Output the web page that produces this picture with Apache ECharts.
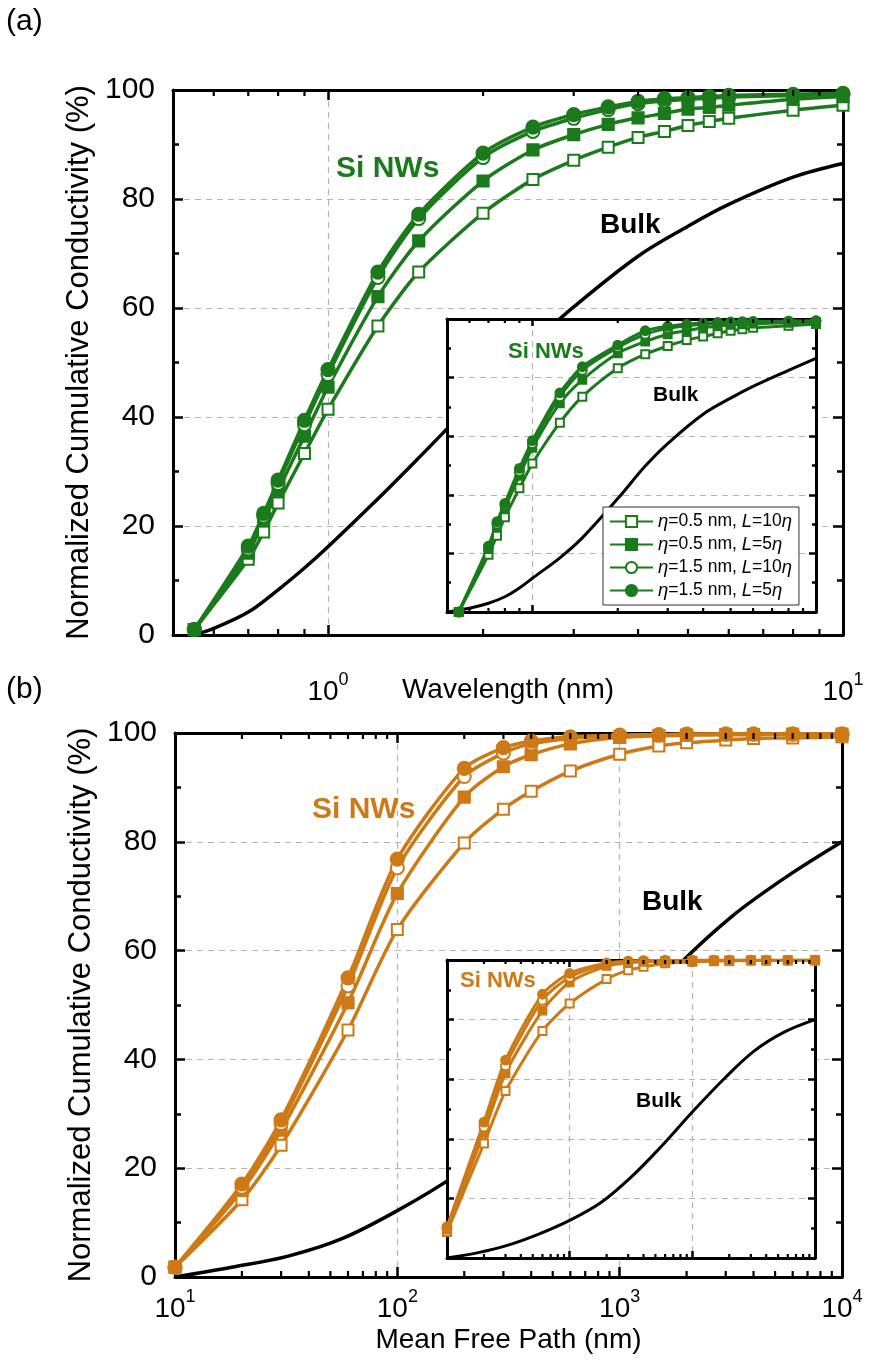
<!DOCTYPE html>
<html>
<head>
<meta charset="utf-8">
<script src="https://cdn.jsdelivr.net/npm/echarts@6/dist/echarts.min.js"></script>
<style>
  html, body { margin: 0; background: #fff; }
  #chart { width: 871px; height: 1366px; }
</style>
</head>
<body>
<div id="chart"></div>
<script>
// ---- panel (a): wavelength ----
var wlX = [0.55, 0.7, 0.75, 0.8, 0.9, 1.0, 1.25, 1.5, 2, 2.5, 3, 3.5, 4, 4.5, 5, 5.5, 6, 8, 10];
var wlOpenSq = [1, 13.9, 18.9, 24.2, 33.3, 41.4, 56.7, 66.6, 77.4, 83.6, 87.1, 89.5, 91.3, 92.4, 93.5, 94.2, 94.8, 96.3, 97.2];
var wlFullSq = [1, 15, 21, 26.5, 36.5, 45.5, 62.1, 72.3, 83.3, 89.0, 91.8, 93.7, 94.9, 95.7, 96.5, 96.8, 97.2, 98.3, 98.8];
var wlOpenCi = [1, 15.8, 21.8, 27.8, 38.6, 47.8, 65.6, 76.4, 87.6, 92.4, 94.8, 96.4, 97.5, 98, 98.3, 98.5, 98.7, 99, 99.2];
var wlFullCi = [1, 16.3, 22.3, 28.4, 39.4, 48.7, 66.6, 77.2, 88.4, 93.2, 95.5, 96.9, 97.9, 98.4, 98.6, 98.8, 99, 99.2, 99.4];
var wlBulkX = [0.55, 0.6, 0.7, 0.8, 0.9, 1.0, 1.25, 1.5, 1.75, 2, 2.5, 3, 4, 5, 6, 8, 10];
var wlBulk = [0, 1.2, 4.2, 8.3, 12.3, 16.2, 25, 32.5, 39, 44.7, 53.5, 60.2, 69.5, 75, 79, 84, 86.5];

// inset (a)
var inWlOpenSq = [0, 19.5, 26, 32.3, 42.2, 50.7, 64.6, 73.5, 83.2, 88, 90.8, 92.8, 94, 95.1, 96, 96.5, 97, 97.7, 98.3];
var inWlFullSq = [0, 21.5, 29, 35.5, 46.5, 56, 71.2, 79.2, 88.3, 92.3, 94.8, 96, 97, 97.5, 98, 98.2, 98.4, 98.7, 98.9];
var inWlOpenCi = [0, 22, 30, 36.5, 48, 57.5, 73.5, 82.5, 90.3, 94.8, 96.8, 97.7, 98.2, 98.5, 98.7, 98.9, 99, 99.2, 99.3];
var inWlFullCi = [0, 22.5, 30.8, 37.1, 49, 58.5, 74.8, 83.7, 91.1, 96, 97.5, 98.2, 98.6, 98.8, 99, 99.1, 99.2, 99.3, 99.4];
var inWlBulkX = [0.5, 0.6, 0.7, 0.8, 0.9, 1.0, 1.25, 1.5, 2, 2.5, 3, 4, 5, 6, 8, 10];
var inWlBulk = [0, 1.3, 3, 5.2, 8.2, 11.5, 18.5, 25.3, 38.7, 49.8, 57.5, 67.5, 73, 77, 82.5, 86.6];

// ---- panel (b): mean free path ----
var mfpX = [10, 20, 30, 60, 100, 200, 300, 400, 600, 1000, 1500, 2000, 3000, 4000, 6000, 10000];
var mfpOpenSq = [1.8, 14.2, 24.2, 45.4, 63.9, 79.8, 86.0, 89.3, 93.0, 96.1, 97.6, 98.2, 98.7, 99.0, 99.1, 99.3];
var mfpFullSq = [1.8, 15.9, 27, 50.4, 70.5, 88.2, 93.8, 96, 98, 99.2, 99.5, 99.6, 99.7, 99.7, 99.8, 99.8];
var mfpOpenCi = [1.8, 16.5, 28.2, 53.5, 75.2, 92, 96.3, 98, 99, 99.5, 99.6, 99.7, 99.8, 99.8, 99.8, 99.8];
var mfpFullCi = [1.8, 17.1, 28.9, 55.0, 76.8, 93.5, 97.3, 98.5, 99.3, 99.6, 99.7, 99.8, 99.8, 99.8, 99.8, 99.8];
var mfpBulkX = [10, 18, 32, 56, 100, 180, 320, 560, 1000, 1800, 3200, 5600, 10000];
var mfpBulk = [0, 1.8, 3.8, 7, 12.2, 18.5, 26.2, 35, 46, 57, 66.3, 73.5, 80];

// inset (b)
var inMfpOpenSq = [8.7, 38.4, 56, 76.2, 85.4, 93.6, 96.6, 97.7, 98.9, 99.4, 99.6, 99.7, 99.8, 99.8, 99.9, 99.9];
var inMfpFullSq = [9.5, 42, 62, 83, 92.5, 98, 99, 99.4, 99.7, 99.8, 99.9, 99.9, 99.9, 99.9, 99.9, 99.9];
var inMfpOpenCi = [10, 44, 64.5, 86.5, 94.2, 98.6, 99.4, 99.7, 99.8, 99.9, 99.9, 99.9, 99.9, 99.9, 99.9, 99.9];
var inMfpFullCi = [10.5, 45.6, 66.4, 88.5, 95.5, 99, 99.6, 99.8, 99.9, 99.9, 99.9, 99.9, 99.9, 99.9, 99.9, 99.9];
var inMfpBulkX = [10, 18, 32, 56, 100, 180, 320, 560, 1000, 1800, 3200, 5600, 10000];
var inMfpBulk = [0, 1.8, 4.4, 8, 12.6, 18.6, 27.3, 37.5, 49, 60, 69.5, 75.8, 80];

// minor ticks on the log axes
var wlMinor = [0.6, 0.7, 0.8, 0.9, 2, 3, 4, 5, 6, 7, 8, 9];
var mfpMinor = [20, 30, 40, 50, 60, 70, 80, 90, 200, 300, 400, 500, 600, 700, 800, 900,
                2000, 3000, 4000, 5000, 6000, 7000, 8000, 9000];

var names = ['η=0.5 nm, L=10η', 'η=0.5 nm, L=5η', 'η=1.5 nm, L=10η', 'η=1.5 nm, L=5η'];
var symbols = ['emptyRect', 'rect', 'emptyCircle', 'circle'];
var green = '#1b7a1b', orange = '#cd7a16';
var fam = '"Liberation Sans", Arial, sans-serif';
var gridLine = { color: '#b4b4b4', type: [6, 5], width: 1.2 };

function pair(xs, ys) {
    return xs.map(function (x, i) { return [x, ys[i]]; });
}

function logLabel(v) {
    var l = Math.log(v) / Math.LN10, e = Math.round(l);
    if (Math.abs(l - e) > 1e-6) return '';
    return '{b|10}{s|' + e + '}';
}

function xAx(grid, min, max, o) {
    return {
        type: 'log', logBase: 10, gridIndex: grid, min: min, max: max,
        position: o.top ? 'top' : 'bottom', z: o.z || 0,
        axisLine: { show: true, onZero: false, lineStyle: { color: '#000', width: 3 } },
        axisTick: { show: true, inside: true, length: o.inset ? 7 : 10, lineStyle: { color: '#000', width: 2.5 } },
        axisLabel: {
            show: !!o.labels, formatter: logLabel, margin: o.margin || 12,
            rich: {
                b: { fontSize: 28, fontFamily: fam, color: '#000', verticalAlign: 'bottom' },
                s: { fontSize: 18, fontFamily: fam, color: '#000', verticalAlign: 'top', padding: [0, 0, 17, 0] }
            }
        },
        splitLine: { show: !o.top, lineStyle: gridLine },
        name: o.name || '', nameLocation: 'middle', nameGap: o.nameGap || 40, nameMoveOverlap: false,
        nameTextStyle: { fontSize: 28, fontFamily: fam, color: '#000' }
    };
}

function yAx(grid, o) {
    return {
        type: 'value', gridIndex: grid, min: 0, max: 100, interval: 20,
        position: o.right ? 'right' : 'left', z: o.z || 0,
        axisLine: { show: true, onZero: false, lineStyle: { color: '#000', width: 3 } },
        axisTick: { show: true, inside: true, length: o.inset ? 7 : 10, lineStyle: { color: '#000', width: 2.5 } },
        minorTick: { show: true, splitNumber: 2, length: o.inset ? 4 : 6, lineStyle: { color: '#000', width: 2.5 } },
        axisLabel: { show: !!o.labels, fontSize: 30, fontFamily: fam, color: '#000', margin: 18 },
        splitLine: { show: !o.right, lineStyle: gridLine },
        name: o.name || '', nameLocation: 'middle', nameGap: 78, nameRotate: 90, nameMoveOverlap: false,
        nameTextStyle: { fontSize: 31, fontFamily: fam, color: '#000' }
    };
}

function nwSeries(xs, ysList, color, xi, inset) {
    return ysList.map(function (ys, k) {
        var circ = k >= 2;
        return {
            name: names[k], type: 'line', xAxisIndex: xi, yAxisIndex: xi,
            data: pair(xs, ys), smooth: 0.25, z: inset ? 7 : 2,
            symbol: symbols[k],
            symbolSize: inset ? (circ ? 9 : 8) : (circ ? 13 : 11),
            lineStyle: { color: color, width: inset ? 3 : 3.5 },
            itemStyle: { color: color, borderColor: color, borderWidth: inset ? 1.8 : 2.2 },
            emphasis: { disabled: true }, animation: false
        };
    });
}

function bulkSeries(xs, ys, xi, inset) {
    return {
        name: 'Bulk', type: 'line', xAxisIndex: xi, yAxisIndex: xi,
        data: pair(xs, ys), smooth: 0.35, showSymbol: false, z: inset ? 7 : 2,
        lineStyle: { color: '#000', width: inset ? 3 : 3.5 },
        emphasis: { disabled: true }, animation: false
    };
}

function minorTicks(xi, vals, len, z) {
    return {
        type: 'custom', xAxisIndex: xi, yAxisIndex: xi, z: z, silent: true, clip: false,
        data: vals.map(function (v) { return [v, 0]; }),
        renderItem: function (params, api) {
            var cs = params.coordSys;
            var x = api.coord([api.value(0), 0])[0];
            var st = { stroke: '#000', lineWidth: 2.2 };
            return {
                type: 'group', children: [
                    { type: 'line', shape: { x1: x, y1: cs.y + cs.height, x2: x, y2: cs.y + cs.height - len }, style: st },
                    { type: 'line', shape: { x1: x, y1: cs.y, x2: x, y2: cs.y + len }, style: st }
                ]
            };
        }
    };
}

function label(text, x, y, size, color) {
    return {
        type: 'text', x: x, y: y, z: 40,
        style: { text: text, fill: color, fontSize: size, fontWeight: 'bold', fontFamily: fam, align: 'left', verticalAlign: 'middle' }
    };
}

var yTitle = 'Normalized Cumulative Conductivity (%)';

var option = {
    backgroundColor: '#fff',
    animation: false,
    grid: [
        { left: 173, top: 90, width: 670, height: 545 },
        { left: 447, top: 319, width: 369, height: 293, show: true, backgroundColor: '#fff', borderWidth: 0, z: 5 },
        { left: 175, top: 733, width: 667, height: 544 },
        { left: 447, top: 960, width: 368, height: 298, show: true, backgroundColor: '#fff', borderWidth: 0, z: 5 }
    ],
    xAxis: [
        xAx(0, 0.5, 10, { labels: true, margin: 36, name: 'Wavelength (nm)', nameGap: 41 }),
        xAx(1, 0.5, 10, { inset: true, z: 6 }),
        xAx(2, 10, 10000, { labels: true, margin: 11, name: 'Mean Free Path (nm)', nameGap: 49 }),
        xAx(3, 10, 10000, { inset: true, z: 6 }),
        xAx(0, 0.5, 10, { top: true }),
        xAx(1, 0.5, 10, { top: true, inset: true, z: 6 }),
        xAx(2, 10, 10000, { top: true }),
        xAx(3, 10, 10000, { top: true, inset: true, z: 6 })
    ],
    yAxis: [
        yAx(0, { labels: true, name: yTitle }),
        yAx(1, { inset: true, z: 6 }),
        yAx(2, { labels: true, name: yTitle }),
        yAx(3, { inset: true, z: 6 }),
        yAx(0, { right: true }),
        yAx(1, { right: true, inset: true, z: 6 }),
        yAx(2, { right: true }),
        yAx(3, { right: true, inset: true, z: 6 })
    ],
    legend: {
        left: 603, top: 507, orient: 'vertical', z: 20,
        itemGap: 4, itemWidth: 43, itemHeight: 14, padding: [5, 7, 5, 6],
        borderColor: '#333', borderWidth: 1, backgroundColor: '#fff', selectedMode: false,
        data: names,
        formatter: function (n) { return n.replace('L=', '{i|L}=').replace(/η/g, '{i|η}'); },
        textStyle: {
            fontSize: 17.5, fontFamily: fam, color: '#000',
            rich: { i: { fontSize: 18.5, fontStyle: 'italic', fontFamily: fam, color: '#000' } }
        }
    },
    graphic: [
        { type: 'text', x: 6, y: 22, z: 40, style: { text: '(a)', fontSize: 30, fontFamily: fam, fill: '#000', verticalAlign: 'middle' } },
        { type: 'text', x: 6, y: 690, z: 40, style: { text: '(b)', fontSize: 30, fontFamily: fam, fill: '#000', verticalAlign: 'middle' } },
        label('Si NWs', 336, 169, 30, green),
        label('Bulk', 600, 225, 28, '#000'),
        label('Si NWs', 508, 352, 22, green),
        label('Bulk', 653, 395, 21, '#000'),
        label('Si NWs', 312, 810, 30, orange),
        label('Bulk', 642, 902, 28, '#000'),
        label('Si NWs', 460, 981, 22, orange),
        label('Bulk', 636, 1101, 21, '#000')
    ],
    series: [].concat(
        [bulkSeries(wlBulkX, wlBulk, 0, false)],
        nwSeries(wlX, [wlOpenSq, wlFullSq, wlOpenCi, wlFullCi], green, 0, false),
        [bulkSeries(inWlBulkX, inWlBulk, 1, true)],
        nwSeries(wlX, [inWlOpenSq, inWlFullSq, inWlOpenCi, inWlFullCi], green, 1, true),
        [bulkSeries(mfpBulkX, mfpBulk, 2, false)],
        nwSeries(mfpX, [mfpOpenSq, mfpFullSq, mfpOpenCi, mfpFullCi], orange, 2, false),
        [bulkSeries(inMfpBulkX, inMfpBulk, 3, true)],
        nwSeries(mfpX, [inMfpOpenSq, inMfpFullSq, inMfpOpenCi, inMfpFullCi], orange, 3, true),
        [minorTicks(0, wlMinor, 6, 3), minorTicks(1, wlMinor, 4, 8),
         minorTicks(2, mfpMinor, 6, 3), minorTicks(3, mfpMinor, 4, 8)]
    )
};

var chart = echarts.init(document.getElementById('chart'), null, { renderer: 'canvas' });
chart.setOption(option);
</script>
</body>
</html>
